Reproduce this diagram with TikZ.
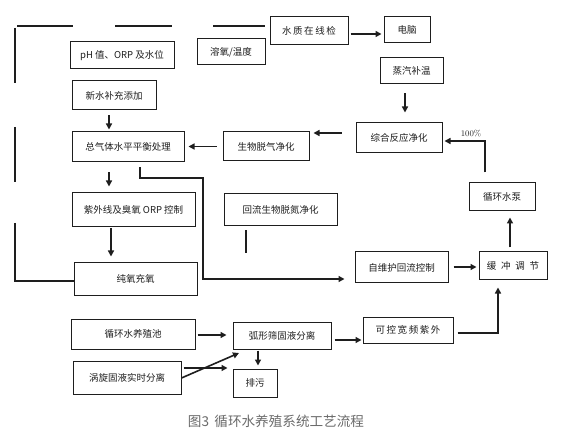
\documentclass[tikz,border=0pt]{standalone}
\usepackage{fontspec}
\newfontfamily\cjk{Noto Sans CJK SC}
\usetikzlibrary{arrows.meta}
\definecolor{ink}{HTML}{1E1E1E}
\definecolor{capgray}{HTML}{6A6A6A}
\tikzset{
  box/.style={draw=ink, line width=1pt, inner sep=0pt, font=\cjk\fontsize{9.5}{11}\selectfont, text=ink},
  arr/.style={draw=ink, line width=1.6pt, -{Triangle[length=6pt,width=6pt]}},
  ln/.style={draw=ink, line width=1.6pt},
}
\newcommand{\bx}[6]{\node[box, minimum width=#4pt, minimum height=#5pt] (#1) at (#2,#3) {#6};}
\begin{document}
\begin{tikzpicture}[x=1pt,y=-1pt]
\useasboundingbox (0,0) rectangle (563,433);
\bx{wq}{309}{31}{78}{28}{水\,质\,在\,线\,检}
\bx{pc}{407}{30}{46}{26}{电脑}
\bx{ph}{122}{55.5}{104}{27}{pH 值、ORP 及水位}
\bx{do}{231}{52}{68}{26}{溶氧/温度}
\bx{nw}{114}{95.5}{84}{29}{新水补充添加}
\bx{tg}{128}{147}{112}{30}{总气体水平平衡处理}
\bx{bd}{266}{146.5}{86}{29}{生物脱气净化}
\bx{zh}{399}{138}{86}{30}{综合反应净化}
\bx{st}{411.5}{71}{63}{26}{蒸汽补温}
\bx{pump}{502}{197}{66}{28}{循环水泵}
\bx{buf}{513}{266}{68}{28}{缓\enspace 冲\enspace 调\enspace 节}
\bx{sm}{401.5}{267.5}{93}{31}{自维护回流控制}
\bx{uv}{133.5}{210}{123}{34}{紫外线及臭氧 ORP 控制}
\bx{o2}{135.5}{279}{123}{32}{纯氧充氧}
\bx{hl}{280.5}{210}{113}{32}{回流生物脱氮净化}
\bx{pool}{133}{334}{124}{30}{循环水养殖池}
\bx{arc}{282}{335.5}{98}{27}{弧形筛固液分离}
\bx{kk}{408}{330}{90}{26}{可\,控\,宽\,频\,紫\,外}
\bx{vx}{127}{377.5}{108}{33}{涡旋固液实时分离}
\bx{pw}{255}{383}{44}{28}{排污}
% connectors
\draw[arr, shorten <=2pt, shorten >=2pt] ([yshift=-3pt]wq.east) -- ([yshift=-3pt]wq.east -| pc.west);
\draw[arr, shorten <=5pt, shorten >=2pt] ([xshift=-5pt]nw.south) -- ([xshift=-5pt]nw.south |- tg.north);
\draw[arr, shorten <=6pt, shorten >=4pt] (bd.west) -- (bd.west -| tg.east);
\draw[arr, shorten <=14pt, shorten >=4pt] ([yshift=5pt]zh.west) -- ([yshift=5pt]zh.west -| bd.east);
\draw[arr, shorten <=9pt, shorten >=10pt] ([xshift=-6.5pt]st.south) -- ([xshift=-6.5pt]st.south |- zh.north);
\coordinate (c100) at (485,141);
\draw[arr, shorten <=10pt, shorten >=2pt] (c100 |- pump.north) -- (c100) -- (c100 -| zh.east);
\node[font=\fontsize{8.5}{9}\selectfont, text=ink] (pct) at (471,134) {100\%};
\draw[arr, shorten <=4pt, shorten >=6pt] ([xshift=-3pt]buf.north) -- ([xshift=-3pt]buf.north |- pump.south);
\draw[arr, shorten <=5pt, shorten >=2pt] ([yshift=0.5pt]sm.east) -- ([yshift=0.5pt]sm.east -| buf.west);
\coordinate (t1) at (140,178);
\coordinate (t2) at (203,178);
\coordinate (t3) at (203,279);
\draw[arr, shorten <=5pt, shorten >=10pt] (t1 |- tg.south) -- (t1) -- (t2) -- (t3) -- (t3 -| sm.west);
\draw[arr, shorten <=10pt, shorten >=6pt] ([xshift=-19pt]tg.south) -- ([xshift=-19pt]tg.south |- uv.north);
\draw[arr, shorten <=1pt, shorten >=6pt] ([xshift=-22.5pt]uv.south) -- ([xshift=-22.5pt]uv.south |- o2.north);
% left broken loop
\coordinate (l1) at (15,223);
\draw[ln] (l1) -- (15,281) -- (o2.west |- 0,281);
\draw[ln] (15,127) -- (15,182);
\draw[ln] (15,28) -- (15,83);
\draw[ln] (17,26) -- (73,26);
\draw[ln] (115,26) -- (172,26);
\draw[ln] (213,26) -- (265,26);
\draw[ln, shorten <=4pt] ([xshift=-34.5pt]hl.south) -- ++(0,27);
% bottom part
\draw[arr, shorten <=2pt, shorten >=6pt] ([yshift=-1pt]pool.east) -- ([yshift=-1pt]pool.east -| arc.west);
\draw[arr, shorten <=3pt, shorten >=1pt] ([yshift=-4.5pt]arc.east) -- ([yshift=-4.5pt]arc.east -| kk.west);
\coordinate (k1) at (498,333);
\draw[arr, shorten <=4pt, shorten >=7pt] (kk.east |- k1) -- (k1) -- (k1 |- buf.south);
\draw[arr] ([yshift=-0.5pt]vx.east) -- (239,353);
\draw[arr, shorten <=2pt, shorten >=5pt] ([yshift=9.5pt]vx.east) -- ([yshift=9.5pt]vx.east -| pw.west);
\draw[arr, shorten <=1pt, shorten >=3pt] ([xshift=3pt]pw.north |- arc.south) -- ([xshift=3pt]pw.north);
\node[font=\cjk\fontsize{13.6}{15}\selectfont, text=capgray] (cap) at (276,421) {图3\, 循环水养殖系统工艺流程};
\end{tikzpicture}
\end{document}
